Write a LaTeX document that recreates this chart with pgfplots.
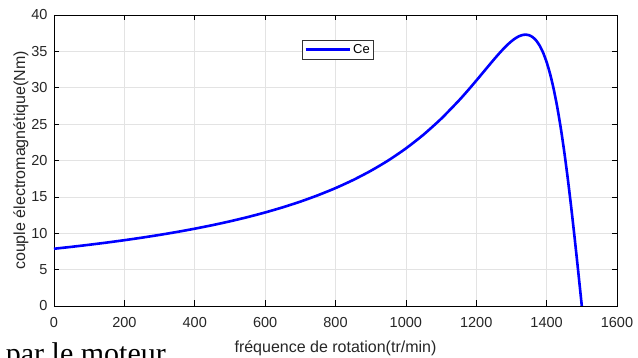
\documentclass[border=0pt]{standalone}
\usepackage{pgfplots}
\pgfplotsset{compat=1.18}
\usepackage{fontspec}
\setmainfont{Liberation Sans}
\newfontfamily\seriffont{Liberation Serif}
\begin{document}
\begin{tikzpicture}[x=1pt,y=1pt]
\useasboundingbox (0,0) rectangle (638,358);
\begin{scope}
\clip (0,0) rectangle (638,358);
\begin{axis}[
  at={(54pt,52pt)}, anchor=south west,
  scale only axis, width=563pt, height=291pt,
  xmin=0, xmax=1600, ymin=0, ymax=40,
  xtick={0,200,...,1600}, ytick={0,5,...,40},
  /pgf/number format/assume math mode=true,
  /pgf/number format/1000 sep={},
  tick label style={font=\fontsize{14.5}{16}\selectfont, text=black!85},
  xticklabel style={yshift=-8pt},
  yticklabel style={xshift=-3pt},
  tick align=inside, major tick length=5.5pt,
  every tick/.style={black, line width=0.6pt},
  axis line style={black, line width=0.8pt},
  grid=major, major grid style={gray!22, line width=0.6pt},
  xlabel={fréquence de rotation(tr/min)},
  ylabel={couple électromagnétique(Nm)},
  label style={font=\fontsize{16}{18}\selectfont, text=black!85},
  xlabel style={at={(axis description cs:0.5,-0.1443)}, anchor=center},
  ylabel style={at={(axis description cs:-0.0586,0.5)}, anchor=center},
  legend style={at={(axis cs:807,35.2)}, anchor=center, draw=black!80, line width=0.6pt,
    font=\fontsize{13}{15}\selectfont, inner xsep=2pt, inner ysep=2pt},
  legend image code/.code={\draw[#1, line width=3pt] (0pt,0pt) -- (44pt,0pt);},
  legend cell align=left,
]
\addplot[blue, line width=2.6pt, smooth, tension=0.4] coordinates {
(0,7.868) (50,8.133) (100,8.416) (150,8.719) (200,9.045) (250,9.395)
(300,9.773) (350,10.182) (400,10.626) (450,11.110) (500,11.638) (550,12.218)
(600,12.856) (650,13.562) (700,14.346) (750,15.222) (800,16.205) (850,17.314)
(900,18.573) (950,20.008) (1000,21.655) (1050,23.547) (1100,25.724)
(1150,28.208) (1175,29.561) (1200,30.976) (1210,31.553) (1220,32.135)
(1230,32.718) (1240,33.298) (1250,33.871) (1260,34.431) (1270,34.972)
(1280,35.485) (1290,35.962) (1300,36.390) (1310,36.756) (1320,37.043)
(1330,37.232) (1340,37.3) (1350,37.222) (1360,36.970) (1370,36.510)
(1380,35.808) (1390,34.826) (1400,33.528) (1410,31.876) (1420,29.84)
(1430,27.394) (1440,24.526) (1450,21.238) (1460,17.553) (1470,13.512)
(1480,9.182) (1490,4.644) (1500,0)
};
\addlegendentry{Ce}
\end{axis}
\node[anchor=base east, inner sep=0pt, font=\seriffont\fontsize{30}{32}\selectfont] at (166,-5.4) {par le moteur};
\end{scope}
\end{tikzpicture}
\end{document}
